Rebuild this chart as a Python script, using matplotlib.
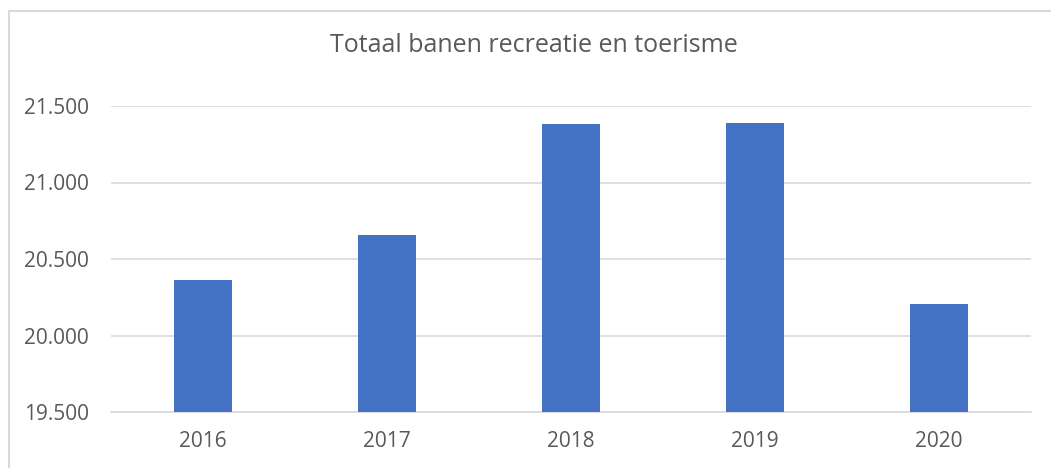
import matplotlib
matplotlib.use('Agg')
import matplotlib.pyplot as plt
from matplotlib.ticker import FuncFormatter
from matplotlib.patches import Rectangle

years = ['2016', '2017', '2018', '2019', '2020']
banen = [20363, 20657, 21384, 21390, 20206]
y_ticks = [19500, 20000, 20500, 21000, 21500]

plt.rcParams['font.family'] = ['Open Sans', 'DejaVu Sans']

W, H = 1051, 468
fig = plt.figure(figsize=(W / 100, H / 100), dpi=100)
ax = fig.add_axes([111 / W, 1 - 412 / H, (1031 - 111) / W, (412 - 106) / H])

# outer chart frame (Excel style), runs off the right and bottom edges
fig.patches.append(Rectangle((8.5 / W, -0.2), 1.2, 1.2 - 10.5 / H, transform=fig.transFigure,
                             fill=False, edgecolor='#d9d9d9', linewidth=1.5))

x = range(len(years))
ax.bar(x, banen, width=0.315, color='#4472c4', zorder=3)

ax.set_xlim(-0.5, len(years) - 0.5)
ax.set_ylim(19500, 21500)
ax.set_yticks(y_ticks)
ax.yaxis.set_major_formatter(FuncFormatter(lambda v, p: f'{int(v):,}'.replace(',', '.')))
ax.set_xticks(list(x))
ax.set_xticklabels(years)

ax.grid(axis='y', color='#d9d9d9', linewidth=1.2, zorder=0)
for s in ['top', 'right', 'left']:
    ax.spines[s].set_visible(False)
ax.spines['bottom'].set_color('#d9d9d9')
ax.spines['bottom'].set_linewidth(1.2)
ax.tick_params(axis='both', length=0, labelsize=15, colors='#595959')
ax.tick_params(axis='y', pad=16)
ax.tick_params(axis='x', pad=14)

fig.text(534 / W, 1 - 45 / H, 'Totaal banen recreatie en toerisme', ha='center', va='center',
         fontsize=18, color='#595959')

fig.savefig('out.png', dpi=100)
